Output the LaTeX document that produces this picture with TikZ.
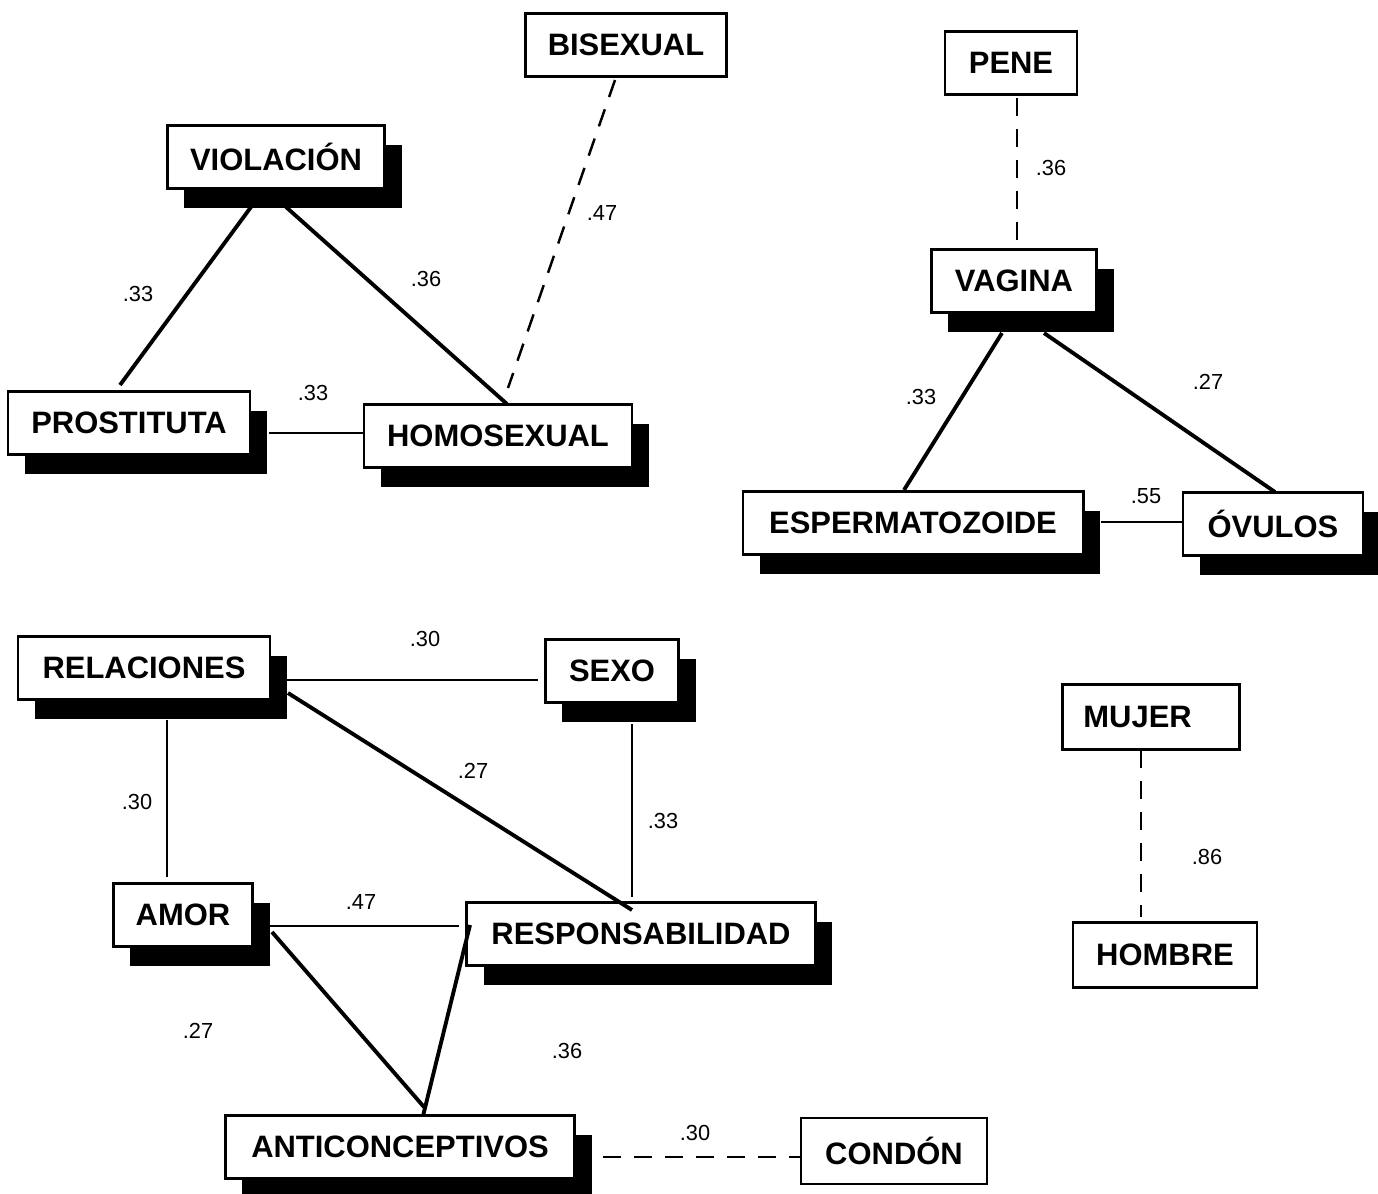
\documentclass[tikz,border=0pt]{standalone}
\usepackage{fontspec}
\setmainfont{Liberation Sans}
\usetikzlibrary{calc,shadows}

\begin{document}
\begin{tikzpicture}[x=0.01cm, y=-0.01cm]
        \tikzstyle{word}=[draw=black,fill=white,line width=0.8pt,inner sep=0pt,minimum height=0.63cm,font=\bfseries\fontsize{8.8}{10}\selectfont]
        \tikzstyle{sword}=[word,drop shadow={shadow xshift=0.17cm,shadow yshift=-0.19cm,fill=black,opacity=1}]
        \tikzstyle{coef}=[inner sep=0pt,font=\fontsize{6.2}{7}\selectfont]
        \tikzstyle{strong}=[line width=1.1pt]
        \tikzstyle{weak}=[line width=0.7pt]
        \tikzstyle{loose}=[line width=0.7pt,dash pattern=on 0.18cm off 0.13cm]

        \useasboundingbox (0,0) rectangle (1378,1193);

        % upper left group
        \node[word,minimum width=2.01cm]    (bisex)  at (626,45)    {BISEXUAL};
        \node[sword,minimum width=2.17cm]   (viol)   at (276,157)   {VIOLACIÓN};
        \node[sword,minimum width=2.42cm]   (prost)  at (129,423)   {PROSTITUTA};
        \node[sword,minimum width=2.68cm]   (homo)   at (498,436)   {HOMOSEXUAL};

        % upper right group
        \node[word,minimum width=1.32cm]    (pene)   at (1011,63)   {PENE};
        \node[sword,minimum width=1.65cm]   (vagina) at (1014,281)  {VAGINA};
        \node[sword,minimum width=3.40cm]   (esperm) at (913,523)   {ESPERMATOZOIDE};
        \node[sword,minimum width=1.80cm]   (ovulos) at (1273,524)  {ÓVULOS};

        % lower left group
        \node[sword,minimum width=2.52cm]   (rel)    at (144,668)   {RELACIONES};
        \node[sword,minimum width=1.33cm]   (sexo)   at (612,671)   {SEXO};
        \node[sword,minimum width=1.39cm]   (amor)   at (183,915)   {AMOR};
        \node[sword,minimum width=3.48cm]   (resp)   at (641,934)   {RESPONSABILIDAD};
        \node[sword,minimum width=3.49cm]   (anti)   at (400,1147)  {ANTICONCEPTIVOS};
        \node[word,minimum width=1.86cm,minimum height=0.66cm] (condon) at (894,1151) {CONDÓN};

        % lower right pair
        \node[word,text width=1.35cm,align=left,inner xsep=0.21cm,minimum height=0.65cm] (mujer) at (1151,717) {MUJER};
        \node[word,minimum width=1.84cm,minimum height=0.65cm] (hombre) at (1165,955) {HOMBRE};

        % links
        \draw[strong] ($(viol)+(-25,50)$)    -- ($(prost)+(-9,-38)$);
        \draw[strong] ($(viol)+(10,50)$)     -- ($(homo)+(9,-32)$);
        \draw[loose]  ($(bisex)+(-11,35)$)   -- ($(homo)+(10,-48)$);
        \draw[weak]   ($(prost)+(140,10)$)   -- ($(homo)+(-134,-3)$);

        \draw[loose]  ($(pene)+(6,35)$)      -- ($(vagina)+(3,-41)$);
        \draw[strong] ($(vagina)+(-12,52)$)  -- ($(esperm)+(-9,-33)$);
        \draw[strong] ($(vagina)+(30,52)$)   -- ($(ovulos)+(2,-32)$);
        \draw[weak]   ($(esperm)+(188,-1)$)  -- ($(ovulos)+(-90,-2)$);

        \draw[weak]   ($(rel)+(143,12)$)     -- ($(sexo)+(-74,9)$);
        \draw[weak]   ($(rel)+(23,52)$)      -- ($(amor)+(-16,-38)$);
        \draw[strong] ($(rel)+(144,25)$)     -- ($(resp)+(-9,-24)$);
        \draw[weak]   ($(sexo)+(20,53)$)     -- ($(resp)+(-9,-37)$);
        \draw[weak]   ($(amor)+(87,11)$)     -- ($(resp)+(-182,-8)$);
        \draw[strong] ($(amor)+(89,17)$)     -- ($(anti)+(24,-40)$);
        \draw[strong] ($(resp)+(-171,-9)$)   -- ($(anti)+(23,-31)$);
        \draw[loose]  ($(anti)+(203,10)$)    -- ($(condon)+(-93,6)$);

        \draw[loose]  ($(mujer)+(-10,33)$)   -- ($(hombre)+(-24,-38)$);

        % coefficients
        \node[coef] (c1)  at (138,294)  {.33};
        \node[coef] (c2)  at (426,279)  {.36};
        \node[coef] (c3)  at (602,213)  {.47};
        \node[coef] (c4)  at (313,393)  {.33};
        \node[coef] (c5)  at (1051,168) {.36};
        \node[coef] (c6)  at (921,397)  {.33};
        \node[coef] (c7)  at (1208,382) {.27};
        \node[coef] (c8)  at (1146,496) {.55};
        \node[coef] (c9)  at (425,639)  {.30};
        \node[coef] (c10) at (137,802)  {.30};
        \node[coef] (c11) at (473,771)  {.27};
        \node[coef] (c12) at (663,821)  {.33};
        \node[coef] (c13) at (361,902)  {.47};
        \node[coef] (c14) at (198,1031) {.27};
        \node[coef] (c15) at (567,1051) {.36};
        \node[coef] (c16) at (695,1133) {.30};
        \node[coef] (c17) at (1207,857) {.86};
\end{tikzpicture}
\end{document}
